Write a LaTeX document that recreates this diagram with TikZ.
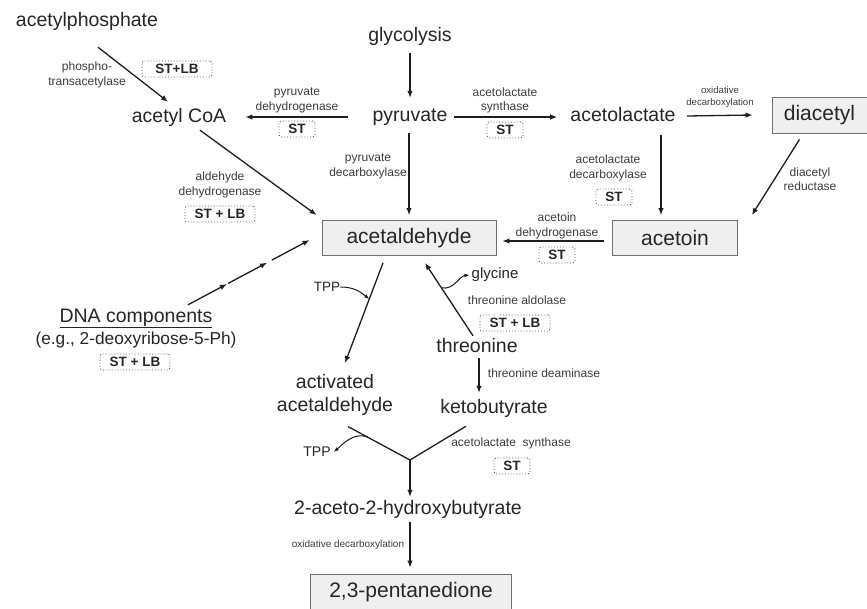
\documentclass[tikz,border=0pt]{standalone}
\usepackage{fontspec}
\setmainfont{Liberation Sans}
\usetikzlibrary{arrows.meta,calc}
\definecolor{txt}{HTML}{262626}
\definecolor{enzc}{HTML}{3C3C3C}
\definecolor{arrc}{HTML}{1E1E1E}
\definecolor{boxfill}{HTML}{EFEFEF}
\definecolor{boxline}{HTML}{707070}
\definecolor{tagline}{HTML}{555555}

\begin{document}
\begin{tikzpicture}[x=1pt,y=-1pt]
    \tikzstyle{every node}=[text=txt,inner sep=0pt]
    \tikzstyle{metab}=[font=\fontsize{19.5}{23}\selectfont,text height=14pt,text depth=4pt]
    \tikzstyle{cpdbox}=[draw=boxline,fill=boxfill,line width=0.8pt,font=\fontsize{21}{24}\selectfont,minimum height=35pt]
    \tikzstyle{enzyme}=[text=enzc,align=center,font=\fontsize{12}{14.5}\selectfont]
    \tikzstyle{tiny}=[text=enzc,align=center,font=\fontsize{9.6}{12}\selectfont]
    \tikzstyle{enztag}=[draw=tagline,dotted,line width=0.9pt,rounded corners=2.5pt,font=\bfseries\fontsize{13.5}{15}\selectfont,minimum width=36pt,minimum height=16pt]
    \tikzstyle{arr}=[draw=arrc,line width=1.3pt,-{Latex[length=7pt,width=5.5pt]}]
    \tikzstyle{curly}=[draw=arrc,line width=1pt,-{Latex[length=5pt,width=4pt]}]
    \tikzstyle{conn}=[draw=arrc,line width=1.3pt]
    \path[fill=white,use as bounding box] (0,0) rectangle (867,608);

    % metabolites
    \node[metab] (acp) at (87,21) {acetylphosphate};
    \node[metab] (glyc) at (410,36) {glycolysis};
    \node[metab] (pyr) at (410,116) {pyruvate};
    \node[metab] (acoa) at (179,117) {acetyl CoA};
    \node[metab] (alac) at (623,116) {acetolactate};
    \node[metab] (thr) at (477,347) {threonine};
    \node[metab] (kbut) at (494,408) {ketobutyrate};
    \node[metab] (hbut) at (408,509) {2-aceto-2-hydroxybutyrate};
    \node[metab] (dna) at (136,317) {\underline{DNA components}};
    \node[metab,font=\fontsize{17.3}{20}\selectfont] (eg) at (136,339) {(e.g., 2-deoxyribose-5-Ph)};
    \node[align=center,anchor=north,font=\fontsize{19.5}{23}\selectfont] (actl) at (335,374) {activated\\acetaldehyde};

    % boxed products
    \node[cpdbox,minimum width=174pt] (acald) at (409,238) {acetaldehyde};
    \node[cpdbox,minimum width=125pt] (acetoin) at (675,238) {acetoin};
    \node[cpdbox,minimum width=95pt,minimum height=36pt] (diac) at (819.5,115) {diacetyl};
    \node[cpdbox,minimum width=201pt,minimum height=36pt] (pent) at (411,592) {2,3-pentanedione};

    % enzymes
    \node[enzyme] (ptase) at (87,75) {phospho-\\transacetylase};
    \node[enzyme] (pdh) at (297,100.5) {pyruvate\\dehydrogenase};
    \node[enzyme] (als) at (505,100.5) {acetolactate\\synthase};
    \node[enzyme] (pdc) at (368,166.5) {pyruvate\\decarboxylase};
    \node[enzyme] (aldc) at (608,168) {acetolactate\\decarboxylase};
    \node[enzyme] (aldh) at (220,185) {aldehyde\\dehydrogenase};
    \node[enzyme] (acdh) at (557,226) {acetoin\\dehydrogenase};
    \node[enzyme] (dar) at (810,179) {diacetyl\\reductase};
    \node[tiny] (oxd) at (720,97) {oxidative\\decarboxylation};
    \node[enzyme] (tald) at (517,300) {threonine aldolase};
    \node[enzyme] (tdea) at (544,373) {threonine deaminase};
    \node[enzyme] (als2) at (511,443) {acetolactate\ \ synthase};
    \node[tiny,font=\fontsize{10}{12}\selectfont] (oxd2) at (348,545) {oxidative decarboxylation};
    \node[font=\fontsize{15}{18}\selectfont] (gly) at (495,275) {glycine};
    \node[font=\fontsize{13.5}{16}\selectfont] (tppu) at (327,287) {TPP};
    \node[font=\fontsize{14}{16}\selectfont] (tppl) at (317,452) {TPP};

    % strain tags
    \node[enztag,minimum width=70pt] (t1) at (177,69) {ST+LB};
    \node[enztag] (t2) at (297,129) {ST};
    \node[enztag] (t3) at (505,130) {ST};
    \node[enztag] (t4) at (614,197) {ST};
    \node[enztag] (t5) at (557,255) {ST};
    \node[enztag,minimum width=70pt] (t6) at (220,214) {ST + LB};
    \node[enztag,minimum width=70pt] (t7) at (135,362) {ST + LB};
    \node[enztag,minimum width=70pt] (t8) at (515,323) {ST + LB};
    \node[enztag] (t9) at (512,466) {ST};

    % reactions
    \draw[arr] ($(acp.south)+(11,17)$) -- ($(acoa.north)+(-11,-6)$);
    \draw[arr] ($(glyc.south)+(0,8)$) -- ($(pyr.north)+(0,-9)$);
    \draw[arr] ($(pyr.west)+(-24,1)$) -- ($(acoa.east)+(19,0)$);
    \draw[arr] ($(pyr.east)+(6,1)$) -- ($(alac.west)+(-13,1)$);
    \draw[arr] ($(alac.east)+(11,0)$) -- ($(diac.west)+(-19,0)$);
    \draw[arr] ($(alac.south)+(38,10)$) -- ($(acetoin.north)+(-14,-5)$);
    \draw[arr] ($(diac.south)+(-20,6)$) -- ($(acetoin.north east)+(14,-5)$);
    \draw[arr] ($(acetoin.west)+(-8,3)$) -- ($(acald.east)+(6,3)$);
    \draw[arr] ($(pyr.south)+(-1,8)$) -- ($(acald.north)+(0,-5)$);
    \draw[arr] ($(acoa.south)+(21,4)$) -- ($(acald.north west)+(-5,-5)$);

    % DNA route, broken arrow
    \coordinate (d0) at ($(dna.north)+(52,-3)$);
    \coordinate (d1) at ($(acald.west)+(-12,2)$);
    \draw[arr] (d0) -- ($(d0)!0.32!(d1)$);
    \draw[arr] ($(d0)!0.33!(d1)$) -- ($(d0)!0.65!(d1)$);
    \draw[arr] ($(d0)!0.69!(d1)$) -- (d1);

    % acetaldehyde <-> threonine branch
    \draw[arr] ($(acald.south)+(-26,7)$) -- coordinate[pos=0.36] (tpp1) ($(actl.north)+(10,-11)$);
    \draw[arr] ($(thr.north)+(-4,-2)$) -- coordinate[pos=0.66] (gly1) ($(acald.south)+(16,7)$);
    \draw[curly] (tppu.east) .. controls +(14,0) and +(-9,-7) .. (tpp1);
    \draw[curly] (gly1) .. controls +(12,3) and +(-10,1) .. ($(gly.west)+(-2,0)$);
    \draw[arr] ($(thr.south)+(2,2)$) -- ($(thr.south |- kbut.north)+(2,-6)$);

    % condensation
    \coordinate (yj) at (410,460);
    \draw[conn] ($(actl.south)+(13,11)$) -- coordinate[pos=0.32] (tpp2) (yj) -- ($(kbut.south)+(-28,9)$);
    \draw[curly] (tpp2) .. controls +(-14,-6) and +(8,-7) .. ($(tppl.east)+(3,0)$);
    \draw[arr] (yj) -- ($(yj |- hbut.north)+(0,-3)$);
    \draw[arr] ($(hbut.south)+(2,4)$) -- ($(pent.north)+(-1,-6)$);
\end{tikzpicture}
\end{document}
